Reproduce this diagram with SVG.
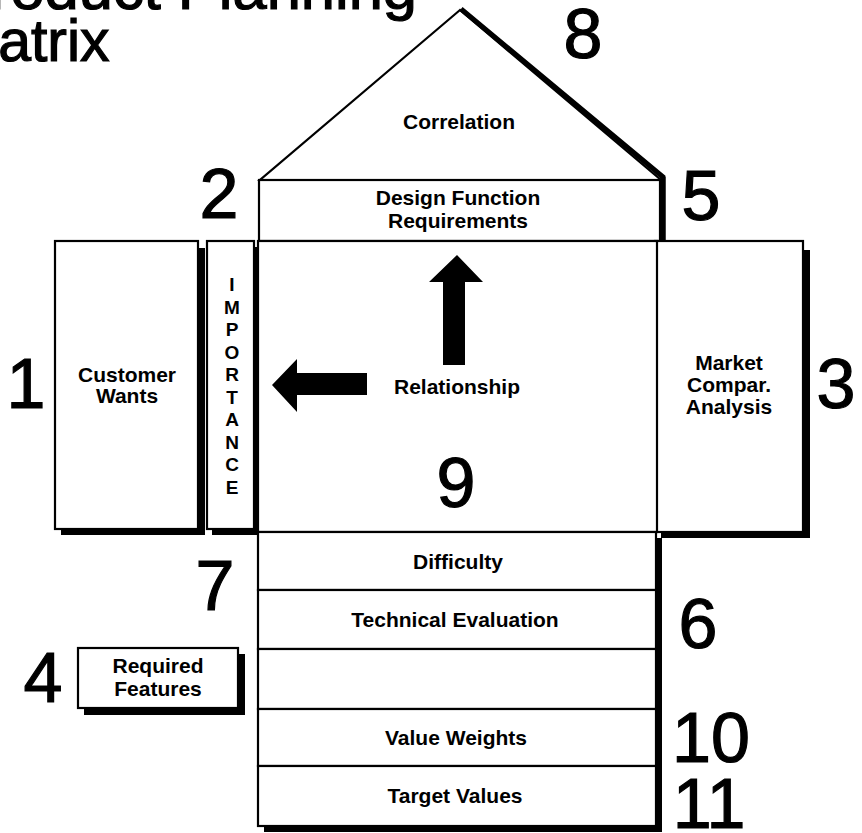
<svg xmlns="http://www.w3.org/2000/svg" width="862" height="833" viewBox="0 0 862 833">
<style>
.box{fill:#fff;stroke:#000;stroke-width:2.2}
.shadow{fill:#000}
.lbl{font-family:"Liberation Sans",Arial,sans-serif;font-weight:bold;font-size:21px;text-anchor:middle;fill:#000}
.num{font-family:"Liberation Sans",Arial,sans-serif;font-size:70px;text-anchor:middle;fill:#000;stroke:#000;stroke-width:1.2}
.title{font-family:"Liberation Sans",Arial,sans-serif;font-size:59px;fill:#000;stroke:#000;stroke-width:1.2}
.arrow{fill:#000}
</style>
<rect width="862" height="833" fill="#fff"/>
<g id="title">
<text class="title" x="-51" y="9" textLength="468" lengthAdjust="spacingAndGlyphs">Product Planning</text>
<text class="title" x="-51" y="61">Matrix</text>
</g>
<g id="correlation">
<polygon class="box" points="460,10 260,180 661,180"/>
<polyline points="461,9 663,177 663,242" fill="none" stroke="#000" stroke-width="5"/>
<text class="lbl" x="459" y="129">Correlation</text>
</g>
<g id="design-requirements">
<rect class="box" x="259" y="180" width="401" height="61"/>
<line x1="663" y1="177" x2="663" y2="242" stroke="#000" stroke-width="5"/>
<text class="lbl" x="458" y="205">Design Function</text>
<text class="lbl" x="458" y="228">Requirements</text>
</g>
<g id="customer-wants">
<rect class="shadow" x="61" y="248" width="144" height="287"/>
<rect class="box" x="55" y="241" width="143" height="288"/>
<text class="lbl" x="127" y="382">Customer</text>
<text class="lbl" x="127" y="403">Wants</text>
</g>
<g id="importance">
<rect class="shadow" x="212" y="247" width="46" height="288"/>
<rect class="box" x="207" y="241" width="47" height="288"/>
<g class="lbl" style="font-size:19px">
<text x="232" y="291">I</text><text x="232" y="314">M</text><text x="232" y="336">P</text><text x="232" y="359">O</text><text x="232" y="381">R</text><text x="232" y="404">T</text><text x="232" y="426">A</text><text x="232" y="449">N</text><text x="232" y="471">C</text><text x="232" y="494">E</text>
</g>
</g>
<g id="market-comparison">
<rect class="shadow" x="661" y="250" width="149" height="288"/>
<rect class="box" x="655" y="241" width="148" height="291"/>
<text class="lbl" x="729" y="370">Market</text>
<text class="lbl" x="729" y="392">Compar.</text>
<text class="lbl" x="729" y="414">Analysis</text>
</g>
<g id="relationship">
<rect class="box" x="258" y="241" width="399" height="291"/>
<text class="lbl" x="457" y="394">Relationship</text>
</g>
<g id="lower-block">
<rect class="shadow" x="264" y="538" width="398" height="294"/>
<g id="difficulty">
<rect class="box" x="258" y="532" width="398" height="58"/>
<text class="lbl" x="458" y="569">Difficulty</text>
</g>
<g id="technical-evaluation">
<rect class="box" x="258" y="590" width="398" height="59"/>
<text class="lbl" x="455" y="627">Technical Evaluation</text>
</g>
<g id="blank-row">
<rect class="box" x="258" y="649" width="398" height="60"/>
</g>
<g id="value-weights">
<rect class="box" x="258" y="709" width="398" height="57"/>
<text class="lbl" x="456" y="745">Value Weights</text>
</g>
<g id="target-values">
<rect class="box" x="258" y="766" width="398" height="60"/>
<text class="lbl" x="455" y="803">Target Values</text>
</g>
</g>
<g id="required-features">
<rect class="shadow" x="84" y="654" width="161" height="61"/>
<rect class="box" x="78" y="648" width="160" height="60"/>
<text class="lbl" x="158" y="673">Required</text>
<text class="lbl" x="158" y="696">Features</text>
</g>
<g id="connectors">
<polygon class="arrow" points="457,255 483,282 465,282 465,365 443,365 443,282 429,282"/>
<polygon class="arrow" points="272,385 297,359 297,373 367,373 367,395 297,395 297,412"/>
</g>
<g id="numbers">
<text class="num" x="26" y="408">1</text>
<text class="num" x="219" y="218">2</text>
<text class="num" x="836" y="408">3</text>
<text class="num" x="43" y="702">4</text>
<text class="num" x="701" y="220">5</text>
<text class="num" x="698" y="648">6</text>
<text class="num" x="215" y="610">7</text>
<text class="num" x="583" y="58">8</text>
<text class="num" x="456" y="507">9</text>
<text class="num" x="711" y="762">10</text>
<text class="num" x="709" y="828">11</text>
</g>
</svg>
